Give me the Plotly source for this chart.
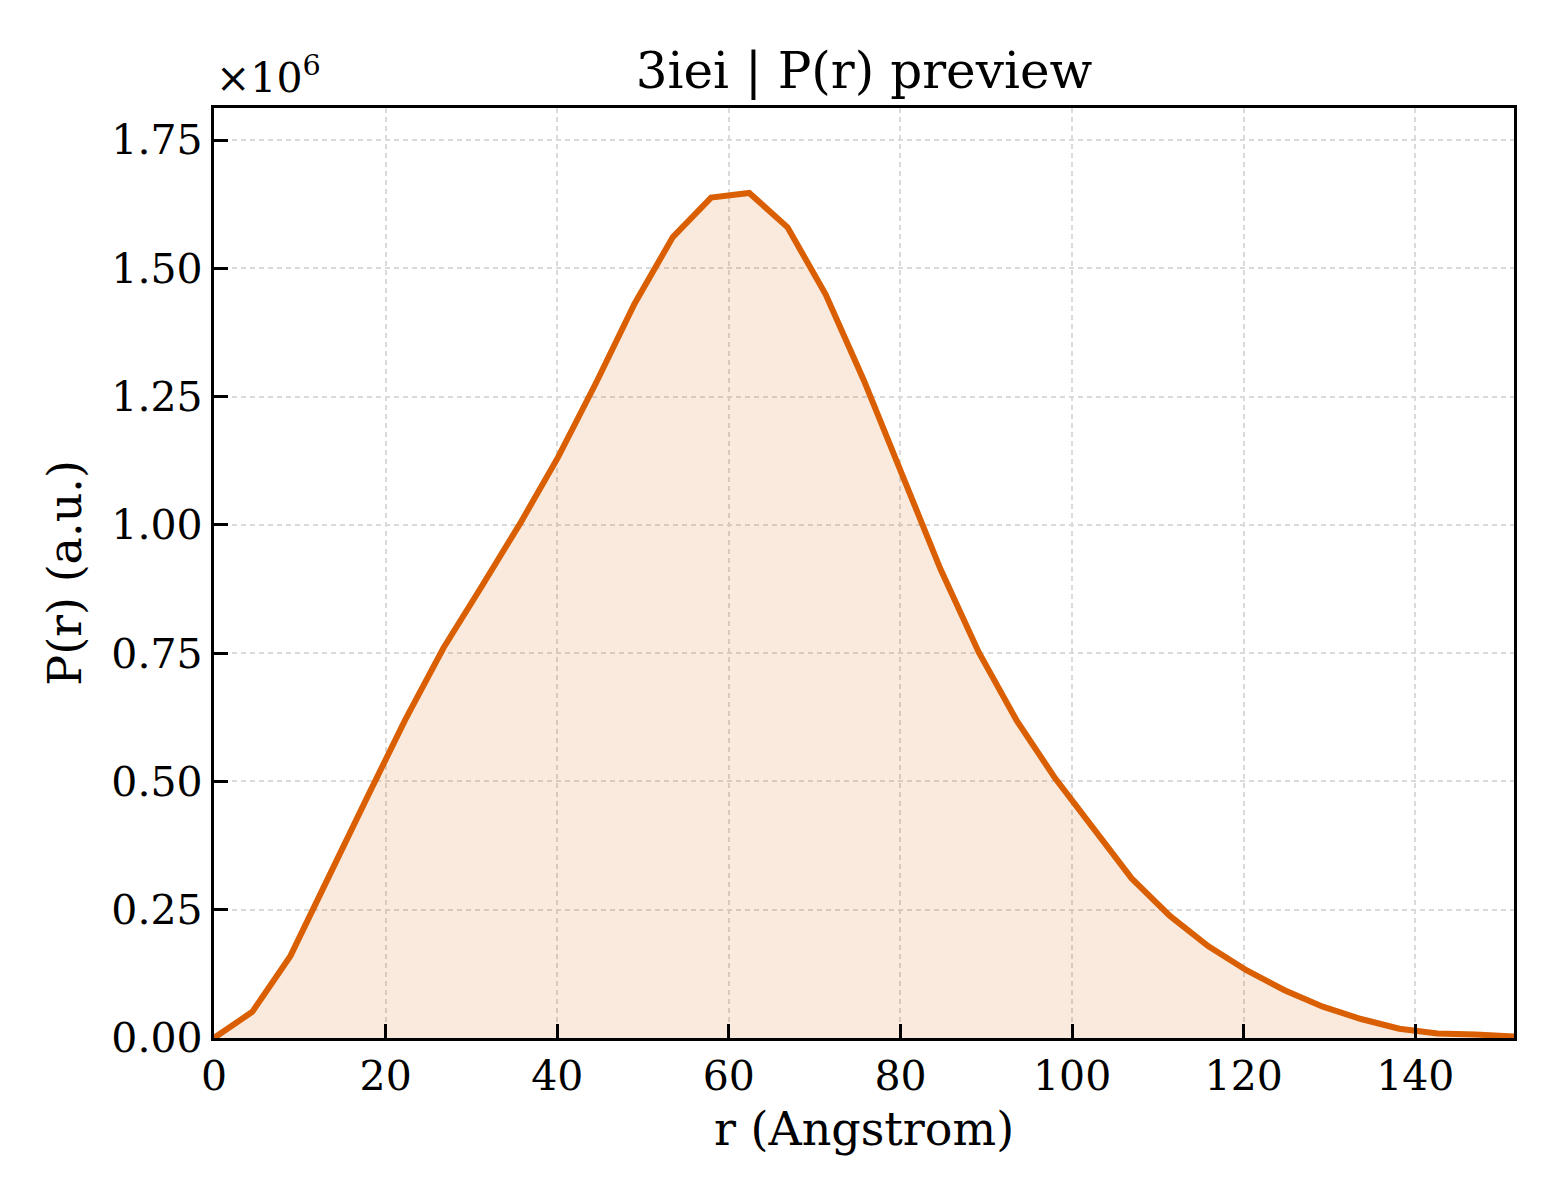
import plotly.graph_objects as go

r_angstrom = [0.00, 4.46, 8.91, 13.37, 17.82, 22.28, 26.74, 31.19, 35.65, 40.10,
              44.56, 49.01, 53.47, 57.93, 62.38, 66.84, 71.29, 75.75, 80.21, 84.66,
              89.12, 93.57, 98.03, 102.49, 106.94, 111.40, 115.85, 120.31, 124.76,
              129.22, 133.68, 138.13, 142.59, 147.04, 151.50]
p_r_1e6 = [0.000, 0.051, 0.160, 0.311, 0.468, 0.620, 0.760, 0.880, 1.002, 1.132,
           1.278, 1.431, 1.561, 1.638, 1.647, 1.580, 1.449, 1.281, 1.099, 0.914,
           0.752, 0.618, 0.506, 0.406, 0.311, 0.238, 0.179, 0.132, 0.093,
           0.061, 0.037, 0.018, 0.009, 0.007, 0.003]

y_ticks = [0, 0.25, 0.5, 0.75, 1.0, 1.25, 1.5, 1.75]
y_ticktext = ["%.2f" % v for v in y_ticks]
x_ticks = [0, 20, 40, 60, 80, 100, 120, 140]

orange = "rgb(217,95,2)"
font = "DejaVu Serif"

fig = go.Figure()
fig.add_scatter(x=r_angstrom, y=p_r_1e6, mode="lines",
                line=dict(color=orange, width=6),
                fill="tozeroy", fillcolor="rgba(217,95,2,0.13)",
                showlegend=False)

axis_common = dict(showline=True, linecolor="black", linewidth=3.3, mirror=True,
                   ticks="inside", ticklen=14, tickwidth=3, tickcolor="black",
                   showgrid=True, gridcolor="rgb(218,218,218)", gridwidth=1.5,
                   griddash="5px,4px", zeroline=False,
                   tickfont=dict(family=font, size=41, color="black"))

fig.update_xaxes(range=[0, 151.5], tickvals=x_ticks,
                 title=dict(text="r (Angstrom)", font=dict(family=font, size=46, color="black"),
                            standoff=14),
                 **axis_common)
fig.update_yaxes(range=[0, 1.8125], tickvals=y_ticks, ticktext=y_ticktext,
                 title=dict(text="P(r) (a.u.)", font=dict(family=font, size=46, color="black"),
                            standoff=16),
                 **axis_common)

fig.add_annotation(text="×10<sup>6</sup>", xref="paper", yref="paper", x=0, y=1,
                   xanchor="left", yanchor="bottom", yshift=4, showarrow=False,
                   font=dict(family=font, size=41, color="black"))

# page body adds an 8px offset, so margins are trimmed by 8 on the left/top
fig.update_layout(width=1560, height=1200,
                  margin=dict(l=206, r=54, t=100, b=170),
                  plot_bgcolor="white", paper_bgcolor="white",
                  title=dict(text="3iei | P(r) preview", x=0.5, xref="paper", xanchor="center",
                             y=1 - 62 / 1200, yanchor="middle",
                             font=dict(family=font, size=50, color="black")))

fig.write_html("out.html")
